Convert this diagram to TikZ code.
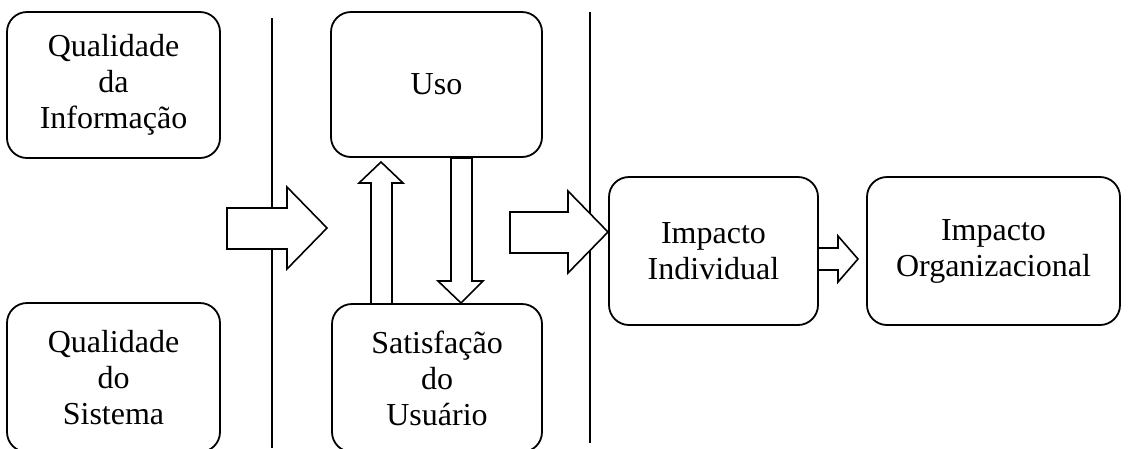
\documentclass[tikz,border=0pt]{standalone}
\usepackage{fontspec}
\setmainfont{Liberation Serif}
\begin{document}
\begin{tikzpicture}[x=1pt,y=-1pt,
  box/.style={draw, line width=1.8pt, rounded corners=20pt, inner sep=0pt,
    align=center, font=\fontsize{32}{36}\selectfont},
  blockarrow/.style={draw, line width=1.6pt, fill=white, line join=miter},
  divider/.style={line width=1.4pt}]
\useasboundingbox (0,0) rectangle (1130,448);
\clip (0,0) rectangle (1130,448);

% column dividers
\coordinate (d1top) at (272,18);
\coordinate (d1bot) at (272,448);
\coordinate (d2top) at (590,12);
\coordinate (d2bot) at (590,443);
\draw[divider] (d1top) -- (d1bot);
\draw[divider] (d2top) -- (d2bot);

% boxes
\node[box, minimum width=213pt, minimum height=146pt] (qi) at (113.5,85)
  {Qualidade\\da\\Informação};
\node[box, minimum width=213pt, minimum height=149pt] (qs) at (113.5,377.5)
  {Qualidade\\do\\Sistema};
\node[box, minimum width=211pt, minimum height=145pt] (uso) at (436.5,84.5)
  {Uso};
\node[box, minimum width=210pt, minimum height=148pt] (sat) at (437,378)
  {Satisfação\\do\\Usuário};
\node[box, minimum width=209pt, minimum height=148pt] (ii) at (713.5,251)
  {Impacto\\Individual};
\node[box, minimum width=253pt, minimum height=148pt] (io) at (993.5,251)
  {Impacto\\Organizacional};

% block arrows
\draw[blockarrow] (227,208) -- (287,208) -- (287,187) -- (327,228)
  -- (287,269) -- (287,249) -- (227,249) -- cycle;
\draw[blockarrow] (371,304) -- (371,183) -- (359,183) -- (381,162)
  -- (403,183) -- (392,183) -- (392,304) -- cycle;
\draw[blockarrow] (451,158) -- (451,281) -- (438,281) -- (461,303)
  -- (483,281) -- (472,281) -- (472,158) -- cycle;
\draw[blockarrow] (510,212) -- (568,212) -- (568,191) -- (608,232)
  -- (568,273) -- (568,253) -- (510,253) -- cycle;
\draw[blockarrow] (818,248) -- (838,248) -- (838,236) -- (858,259)
  -- (838,282) -- (838,270) -- (818,270) -- cycle;
\end{tikzpicture}
\end{document}
